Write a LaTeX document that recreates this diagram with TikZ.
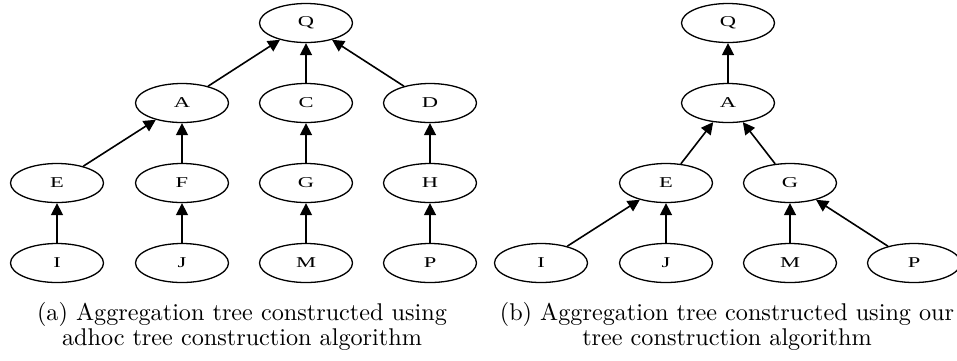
\documentclass[tikz,border=0pt]{standalone}
\usepackage{fontspec}
\newfontfamily\nodefont{Liberation Serif}
\usetikzlibrary{arrows.meta,shapes.geometric}
% node labels are set wide, stretched to suit the flat ellipses
\newcommand{\widelabel}[1]{\scalebox{1.5}[1]{#1}}
\begin{document}
\begin{tikzpicture}[x=1pt,y=1pt,
  vertex/.style={draw,ellipse,line width=1.3pt,minimum width=93pt,minimum height=39pt,inner sep=0pt,
    font=\nodefont\fontsize{15}{15}\selectfont},
  edge/.style={line width=1.6pt,-{Triangle[length=12pt,width=12pt]}},
  caption/.style={align=center,scale=2.42,transform shape,font=\fontsize{10}{10.33}\selectfont}]
\useasboundingbox (0,0) rectangle (957,-360);

% left tree
\node[vertex] (lQ) at (306,-23) {\widelabel{Q}};
\node[vertex] (lA) at (182,-103) {\widelabel{A}};
\node[vertex] (lC) at (306,-103) {\widelabel{C}};
\node[vertex] (lD) at (430,-103) {\widelabel{D}};
\node[vertex] (lE) at (57,-183) {\widelabel{E}};
\node[vertex] (lF) at (182,-183) {\widelabel{F}};
\node[vertex] (lG) at (306,-183) {\widelabel{G}};
\node[vertex] (lH) at (430,-183) {\widelabel{H}};
\node[vertex] (lI) at (57,-263) {\widelabel{I}};
\node[vertex] (lJ) at (182,-263) {\widelabel{J}};
\node[vertex] (lM) at (306,-263) {\widelabel{M}};
\node[vertex] (lP) at (430,-263) {\widelabel{P}};
\draw[edge] (lA) -- (lQ);
\draw[edge] (lC) -- (lQ);
\draw[edge] (lD) -- (lQ);
\draw[edge] (lE) -- (lA);
\draw[edge] (lF) -- (lA);
\draw[edge] (lG) -- (lC);
\draw[edge] (lH) -- (lD);
\draw[edge] (lI) -- (lE);
\draw[edge] (lJ) -- (lF);
\draw[edge] (lM) -- (lG);
\draw[edge] (lP) -- (lH);

% right tree
\node[vertex] (rQ) at (728,-23) {\widelabel{Q}};
\node[vertex] (rA) at (728,-103) {\widelabel{A}};
\node[vertex] (rE) at (666,-183) {\widelabel{E}};
\node[vertex] (rG) at (790,-183) {\widelabel{G}};
\node[vertex] (rI) at (541,-263) {\widelabel{I}};
\node[vertex] (rJ) at (666,-263) {\widelabel{J}};
\node[vertex] (rM) at (790,-263) {\widelabel{M}};
\node[vertex] (rP) at (914,-263) {\widelabel{P}};
\draw[edge] (rA) -- (rQ);
\draw[edge] (rE) -- (rA);
\draw[edge] (rG) -- (rA);
\draw[edge] (rI) -- (rE);
\draw[edge] (rJ) -- (rE);
\draw[edge] (rM) -- (rG);
\draw[edge] (rP) -- (rG);

% captions (anchored on the baseline of the second line)
\node[caption,anchor=base] (capa) at (242,-345) {(a) Aggregation tree constructed using\\adhoc tree construction algorithm};
\node[caption,anchor=base] (capb) at (727,-345) {(b) Aggregation tree constructed using our\\tree construction algorithm};
\end{tikzpicture}
\end{document}
